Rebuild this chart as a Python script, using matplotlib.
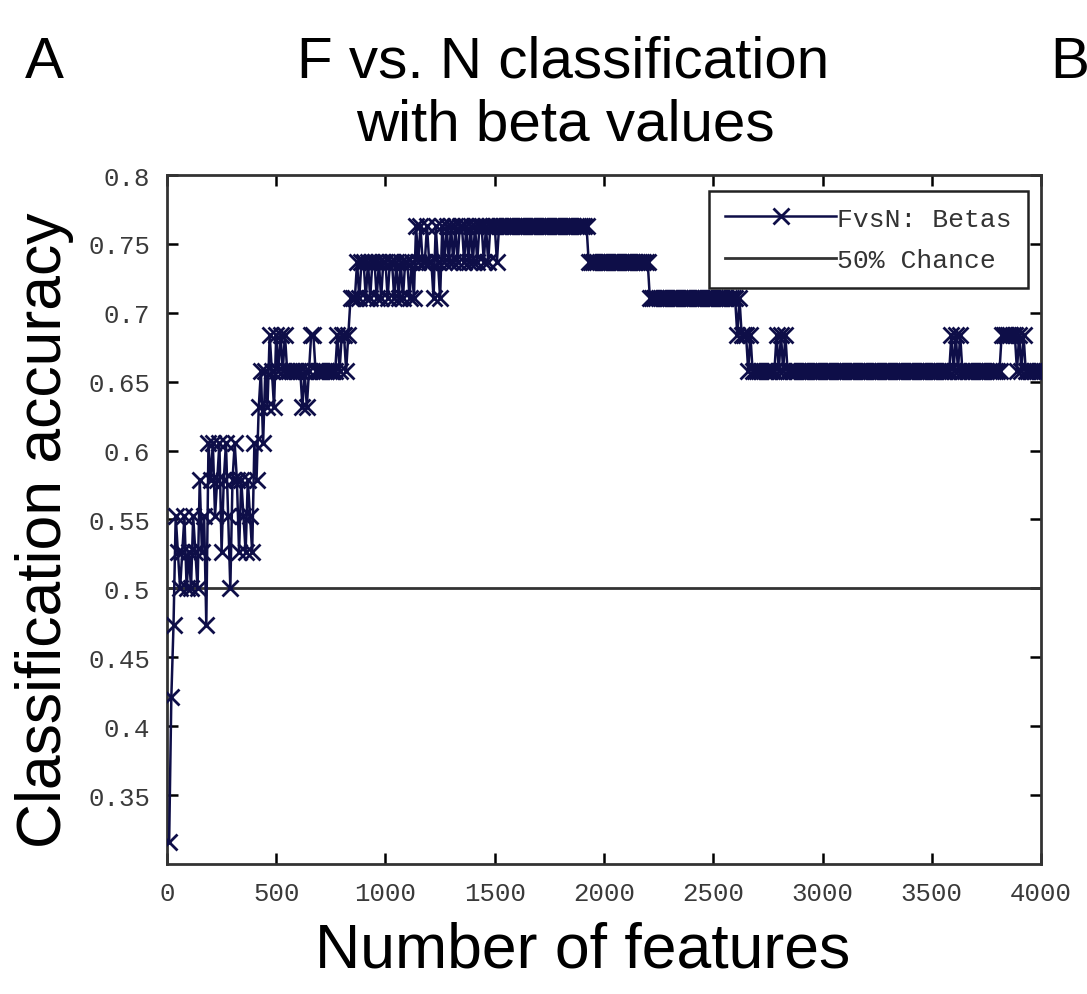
import numpy as np
import matplotlib
matplotlib.use("Agg")
import matplotlib.pyplot as plt

# number of correct test trials (out of 38) for every 10 features
n_trials = 38
n_features = np.arange(10, 4001, 10)
n_correct = [
    12, 16, 18, 21, 20, 19, 20, 21, 19, 20, 19, 21, 20, 19, 22, 20, 21, 18, 23, 22,   # 10-200
    23, 21, 22, 23, 20, 22, 23, 21, 19, 22, 23, 22, 20, 22, 21, 20, 22, 21, 20, 23,   # 210-400
    22, 24, 25, 23, 25, 24, 26, 25, 24, 26, 25, 26, 25, 26, 25, 25, 25, 25, 25, 25,   # 410-600
    25, 24, 25, 24, 25, 26, 26, 25, 25, 25, 25, 25, 25, 25, 25, 25, 25, 26, 25, 26,   # 610-800
    26, 25, 26, 27, 27, 27, 28, 27, 28, 28, 27, 28, 27, 28, 28, 27, 28, 27, 28, 28,   # 810-1000
    27, 28, 28, 27, 28, 27, 28, 27, 28, 28, 27, 28, 27, 29, 28, 29, 28, 28, 29, 28,   # 1010-1200
    28, 27, 29, 28, 27, 29, 28, 29, 28, 29, 28, 29, 28, 29, 29, 28, 29, 28, 29, 28,   # 1210-1400
    29, 28, 29, 29, 28, 29, 28, 29, 29, 29, 28, 29, 29, 29, 29, 29, 29, 29, 29, 29,   # 1410-1600
    29, 29, 29, 29, 29, 29, 29, 29, 29, 29, 29, 29, 29, 29, 29, 29, 29, 29, 29, 29,   # 1610-1800
    29, 29, 29, 29, 29, 29, 29, 29, 29, 29, 29, 29, 28, 28, 28, 28, 28, 28, 28, 28,   # 1810-2000
    28, 28, 28, 28, 28, 28, 28, 28, 28, 28, 28, 28, 28, 28, 28, 28, 28, 28, 28, 28,   # 2010-2200
    27, 27, 27, 27, 27, 27, 27, 27, 27, 27, 27, 27, 27, 27, 27, 27, 27, 27, 27, 27,   # 2210-2400
    27, 27, 27, 27, 27, 27, 27, 27, 27, 27, 27, 27, 27, 27, 27, 27, 27, 27, 27, 27,   # 2410-2600
    26, 27, 26, 26, 26, 25, 26, 25, 25, 25, 25, 25, 25, 25, 25, 25, 25, 25, 26, 25,   # 2610-2800
    26, 25, 26, 25, 25, 25, 25, 25, 25, 25, 25, 25, 25, 25, 25, 25, 25, 25, 25, 25,   # 2810-3000
    25, 25, 25, 25, 25, 25, 25, 25, 25, 25, 25, 25, 25, 25, 25, 25, 25, 25, 25, 25,   # 3010-3200
    25, 25, 25, 25, 25, 25, 25, 25, 25, 25, 25, 25, 25, 25, 25, 25, 25, 25, 25, 25,   # 3210-3400
    25, 25, 25, 25, 25, 25, 25, 25, 25, 25, 25, 25, 25, 25, 25, 25, 25, 25, 26, 25,   # 3410-3600
    26, 25, 26, 25, 25, 25, 25, 25, 25, 25, 25, 25, 25, 25, 25, 25, 25, 25, 25, 25,   # 3610-3800
    25, 26, 26, 26, 26, 26, 26, 26, 25, 26, 25, 26, 25, 25, 25, 25, 25, 25, 25, 25,   # 3810-4000
]
accuracy = np.array(n_correct) / n_trials
chance = 0.5

xticks = [0, 500, 1000, 1500, 2000, 2500, 3000, 3500, 4000]
yticks = [0.35, 0.4, 0.45, 0.5, 0.55, 0.6, 0.65, 0.7, 0.75, 0.8]
ytick_labels = ["0.35", "0.4", "0.45", "0.5", "0.55", "0.6", "0.65", "0.7", "0.75", "0.8"]

fig = plt.figure(figsize=(10.87, 9.95), dpi=100)
ax = fig.add_axes([0.1536, 0.1307, 0.8041, 0.6924])

ax.plot(n_features, accuracy, color="#0e0e48", marker="x", markersize=11,
        markeredgewidth=2.0, linewidth=1.8, label="FvsN: Betas", zorder=3)
ax.plot([0, 4000], [chance, chance], color="#333333", linewidth=2.0,
        label="50% Chance", zorder=2)

ax.set_xlim(0, 4000)
ax.set_ylim(0.3, 0.8)
ax.set_xticks(xticks)
ax.set_xticklabels([str(t) for t in xticks])
ax.set_yticks(yticks)
ax.set_yticklabels(ytick_labels)
ax.tick_params(direction="in", length=8, width=1.8, top=True, right=True,
               labelsize=18.5, labelcolor="#3a3a3a", pad=12)
for lab in ax.get_xticklabels() + ax.get_yticklabels():
    lab.set_family("Liberation Mono")
for sp in ax.spines.values():
    sp.set_linewidth(2.0)
    sp.set_color("#333333")

leg = ax.legend(loc="upper right", bbox_to_anchor=(0.985, 0.977),
                prop={"family": "Liberation Mono", "size": 19},
                handlelength=4.2, handletextpad=0.05, borderpad=0.6,
                labelspacing=0.65, fancybox=False, framealpha=1,
                edgecolor="#222222", borderaxespad=0.0)
leg.get_frame().set_linewidth(1.8)
for t in leg.get_texts():
    t.set_color("#333333")

title_font = {"family": "Liberation Sans", "size": 42}
label_font = {"family": "Liberation Sans", "size": 45}
fig.text(0.518, 0.937, "F vs. N classification", ha="center", va="center", **title_font)
fig.text(0.52, 0.874, "with beta values", ha="center", va="center", **title_font)
fig.text(0.041, 0.937, "A", ha="center", va="center", **title_font)
fig.text(0.966, 0.937, "B", ha="left", va="center", **title_font)
ax.set_xlabel("Number of features", fontdict=label_font)
ax.set_ylabel("Classification accuracy", fontdict=label_font)
ax.xaxis.set_label_coords(0.475, -0.125)
ax.yaxis.set_label_coords(-0.14, 0.486)
ax.xaxis.label.set_va("center")
ax.yaxis.label.set_va("center")

fig.savefig("out.png", dpi=100)
